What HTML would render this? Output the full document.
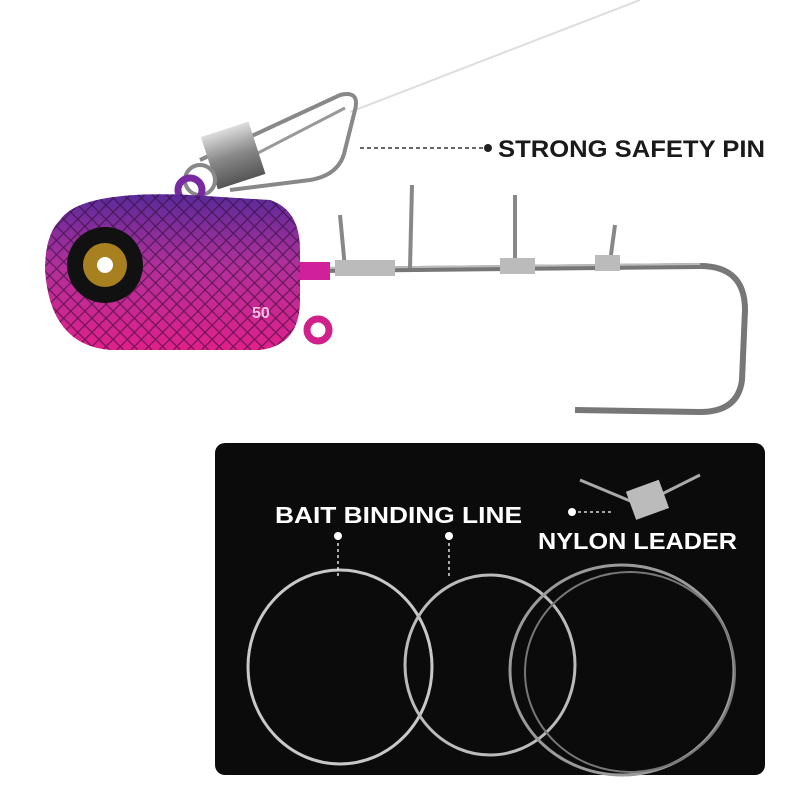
<!DOCTYPE html>
<html><head><meta charset="utf-8"><style>
html,body{margin:0;padding:0;background:#fff;}
svg{display:block}
text{font-family:"Liberation Sans",sans-serif;font-weight:bold;}
</style></head><body>
<svg width="800" height="800" viewBox="0 0 800 800" xmlns="http://www.w3.org/2000/svg">
<defs>
<linearGradient id="body" x1="0" y1="0" x2="0" y2="1">
<stop offset="0" stop-color="#5a2a9a"/><stop offset="0.45" stop-color="#b0309a"/><stop offset="1" stop-color="#e0208a"/>
</linearGradient>
<pattern id="scale" width="10" height="10" patternUnits="userSpaceOnUse" patternTransform="rotate(45)">
<rect width="10" height="10" fill="none" stroke="#2a0a30" stroke-width="1.2" opacity="0.6"/>
</pattern>
<linearGradient id="metal" x1="0" y1="0" x2="0" y2="1">
<stop offset="0" stop-color="#ddd"/><stop offset="0.5" stop-color="#888"/><stop offset="1" stop-color="#555"/>
</linearGradient>
</defs>
<rect width="800" height="800" fill="#fff"/>
<line x1="640" y1="0" x2="350" y2="112" stroke="#ddd" stroke-width="2"/>
<path d="M200 160 L340 95 Q360 90 355 110 L345 150 Q340 175 310 180 L230 190" fill="none" stroke="#888" stroke-width="4"/>
<path d="M225 170 L345 108" fill="none" stroke="#999" stroke-width="3"/>
<rect x="208" y="128" width="50" height="55" fill="url(#metal)" transform="rotate(-18 233 155)"/>
<circle cx="200" cy="180" r="15" fill="none" stroke="#888" stroke-width="4"/>
<line x1="360" y1="148" x2="488" y2="148" stroke="#333" stroke-width="1.5" stroke-dasharray="4,3"/>
<circle cx="488" cy="148" r="4" fill="#222"/>
<text x="498" y="157" font-size="24" fill="#1a1a1a" textLength="267" lengthAdjust="spacingAndGlyphs">STRONG SAFETY PIN</text>
<path d="M320 270 L700 266 Q745 266 745 310 L742 380 Q738 412 700 412 L575 410" fill="none" stroke="#777" stroke-width="6"/>
<path d="M320 268 L700 264" stroke="#bbb" stroke-width="2"/>
<g stroke="#888" stroke-width="4">
<line x1="345" y1="268" x2="340" y2="215"/><line x1="410" y1="268" x2="412" y2="185"/>
<line x1="515" y1="268" x2="515" y2="195"/><line x1="610" y1="262" x2="615" y2="225"/>
</g>
<rect x="335" y="260" width="60" height="16" fill="#bbb"/>
<rect x="500" y="258" width="35" height="16" fill="#bbb"/>
<rect x="595" y="255" width="25" height="16" fill="#bbb"/>
<rect x="290" y="262" width="40" height="18" fill="#d0209a"/>
<circle cx="190" cy="190" r="12" fill="none" stroke="#7a2aa0" stroke-width="7"/>
<circle cx="318" cy="330" r="11" fill="none" stroke="#d0208a" stroke-width="7"/>
<path d="M60 220 Q80 190 190 195 L270 200 Q300 210 300 250 L300 300 Q300 345 260 350 L110 350 Q50 345 45 270 Q45 235 60 220 Z" fill="url(#body)"/>
<path d="M60 220 Q80 190 190 195 L270 200 Q300 210 300 250 L300 300 Q300 345 260 350 L110 350 Q50 345 45 270 Q45 235 60 220 Z" fill="url(#scale)"/>
<circle cx="105" cy="265" r="38" fill="#111"/>
<circle cx="105" cy="265" r="22" fill="#a88020"/>
<circle cx="105" cy="265" r="8" fill="#fff"/>
<text x="252" y="318" font-size="16" fill="#f4c0e0" font-weight="normal">50</text>
<rect x="215" y="443" width="550" height="332" rx="10" fill="#0b0b0b"/>
<g fill="none" stroke-width="3">
<ellipse cx="340" cy="667" rx="92" ry="97" stroke="#c8c8c8"/>
<ellipse cx="490" cy="665" rx="85" ry="90" stroke="#bbb"/>
<ellipse cx="622" cy="670" rx="112" ry="105" stroke="#9a9a9a"/>
<ellipse cx="630" cy="672" rx="105" ry="100" stroke="#777" stroke-width="2"/>
</g>
<path d="M580 480 L640 505 L700 475" fill="none" stroke="#aaa" stroke-width="3"/>
<rect x="630" y="485" width="35" height="30" fill="#bbb" transform="rotate(-20 647 500)"/>
<text x="275" y="523" font-size="23" fill="#fff" textLength="247" lengthAdjust="spacingAndGlyphs">BAIT BINDING LINE</text>
<g stroke="#fff" stroke-width="1.3" stroke-dasharray="3,3"><line x1="338" y1="537" x2="338" y2="578"/><line x1="449" y1="537" x2="449" y2="578"/><line x1="572" y1="512" x2="612" y2="512"/></g>
<circle cx="338" cy="536" r="4" fill="#fff"/><circle cx="449" cy="536" r="4" fill="#fff"/><circle cx="572" cy="512" r="4" fill="#fff"/>
<text x="538" y="549" font-size="23" fill="#fff" textLength="199" lengthAdjust="spacingAndGlyphs">NYLON LEADER</text>
</svg>
</body></html>
